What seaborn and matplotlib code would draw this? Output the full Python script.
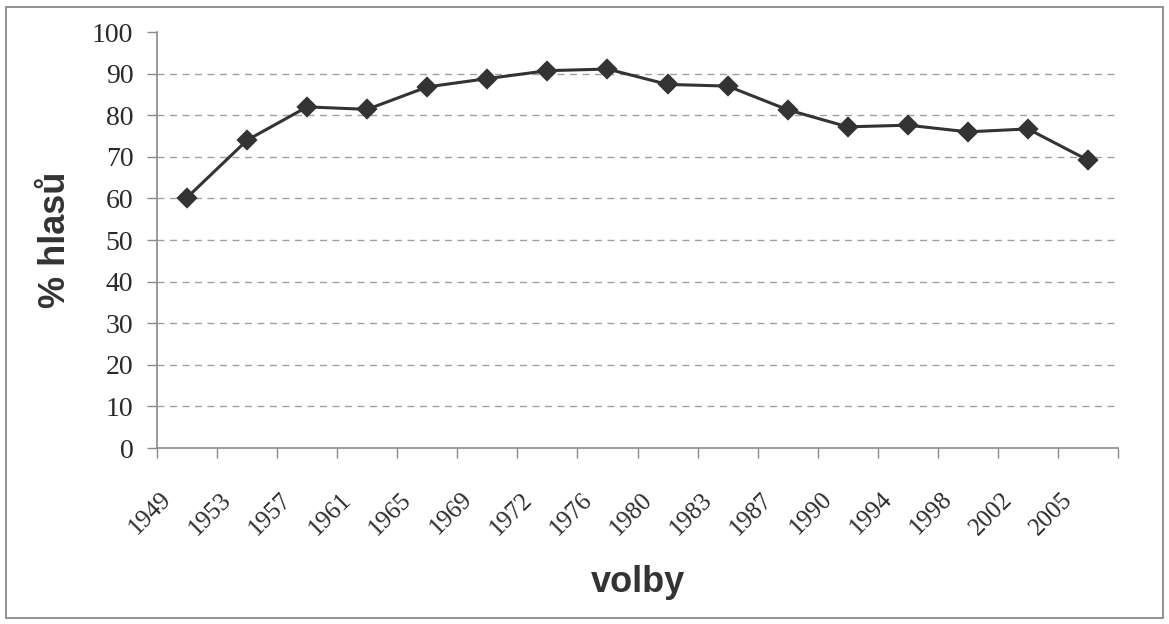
import matplotlib
matplotlib.use("Agg")
import matplotlib.pyplot as plt
import matplotlib.transforms as mtransforms
import seaborn as sns
import pandas as pd
from matplotlib.patches import Rectangle
from matplotlib.ticker import FixedLocator

years = ["1949", "1953", "1957", "1961", "1965", "1969", "1972", "1976",
         "1980", "1983", "1987", "1990", "1994", "1998", "2002", "2005"]
share = [60.2, 74.0, 82.0, 81.4, 86.8, 88.8, 90.7, 91.1,
         87.4, 87.0, 81.3, 77.2, 77.6, 76.0, 76.7, 69.2]
y_ticks = [0, 10, 20, 30, 40, 50, 60, 70, 80, 90, 100]

df = pd.DataFrame({"volby": years, "hlasy": share})

sns.set_theme(style="white")
plt.rcParams["font.family"] = ["Liberation Serif", "DejaVu Serif"]

fig = plt.figure(figsize=(11.69, 6.24), dpi=100)
ax = fig.add_axes([157/1169, 1-448/624, (1118-157)/1169, (448-32)/624])

sns.pointplot(data=df, x="volby", y="hlasy", ax=ax, color="#333333",
              markers="D", linestyles="-", linewidth=2.2, markersize=9,
              errorbar=None)

ax.set_xlim(-0.5, len(years) - 0.5)
ax.set_ylim(0, 100)
ax.set_yticks(y_ticks)
ax.set_yticklabels([str(t) for t in y_ticks])

for t in y_ticks[1:-1]:
    ax.axhline(t, color="#a0a0a0", linestyle=(0, (5, 4)), linewidth=1.0, zorder=0)

for s in ["top", "right"]:
    ax.spines[s].set_visible(False)
for s in ["left", "bottom"]:
    ax.spines[s].set_visible(True)
    ax.spines[s].set_color("#8a8a8a")
    ax.spines[s].set_linewidth(1.2)

ax.xaxis.set_minor_locator(FixedLocator([i - 0.5 for i in range(len(years) + 1)]))
ax.tick_params(axis="x", which="major", length=0, pad=0, labelsize=18,
               labelcolor="#333333")
ax.tick_params(axis="x", which="minor", length=7, color="#8a8a8a", width=1.0, bottom=True)
ax.tick_params(axis="y", which="major", length=7, color="#8a8a8a", width=1.0, left=True,
               labelsize=20, labelcolor="#2a2a2a", pad=10)

ax.set_xticks(range(len(years)))
ax.set_xticklabels(years)
offset = mtransforms.ScaledTranslation(-19/100, -48/100, fig.dpi_scale_trans)
for lab in ax.get_xticklabels():
    lab.set_rotation(45)
    lab.set_ha("right")
    lab.set_va("center")
    lab.set_rotation_mode("anchor")
    lab.set_fontsize(18)
    lab.set_color("#2a2a2a")
    lab.set_transform(lab.get_transform() + offset)

ax.set_xlabel("volby", fontsize=26, fontweight="bold", color="#333333",
              family=["Liberation Sans", "DejaVu Sans"])
ax.xaxis.set_label_coords(0.5, (448-565)/416)
ax.set_ylabel("% hlasů", fontsize=26, fontweight="bold", color="#333333",
              family=["Liberation Sans", "DejaVu Sans"], labelpad=14)

fig.patches.append(Rectangle((6/1169, 1-618/624), (1163-6)/1169, (618-7)/624,
                             transform=fig.transFigure, fill=False,
                             edgecolor="#888888", linewidth=1.3))

fig.savefig("out.png", dpi=100, facecolor="white")
